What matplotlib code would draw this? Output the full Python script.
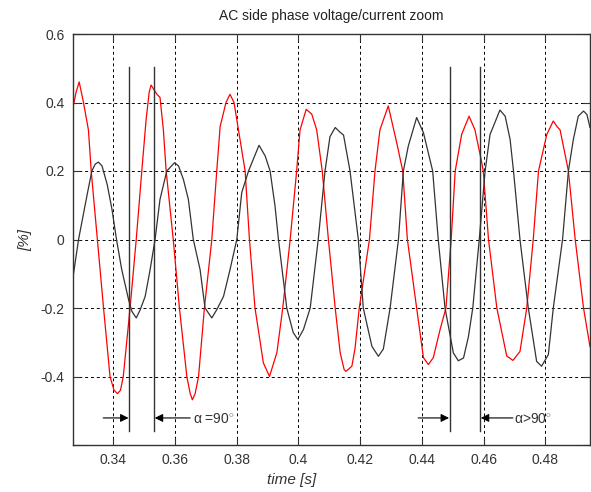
import matplotlib.pyplot as plt
import numpy as np

plt.rcParams['font.family'] = ['Liberation Sans', 'DejaVu Sans']
plt.rcParams['mathtext.fontset'] = 'custom'
plt.rcParams['mathtext.rm'] = 'Liberation Sans'
plt.rcParams['mathtext.it'] = 'Liberation Sans:italic'

# red trace (time [s], value)
red_t = [0.3269, 0.3279, 0.3289, 0.3303, 0.3319, 0.3328, 0.3348, 0.3368, 0.3389, 0.3402,
         0.3413, 0.3423, 0.3432, 0.3454, 0.3474, 0.3492, 0.3506, 0.3516, 0.3522, 0.3541,
         0.3551, 0.3562, 0.3571, 0.3594, 0.3614, 0.3638, 0.3649, 0.3656, 0.3665, 0.3676,
         0.3695, 0.3719, 0.3735, 0.3746, 0.3765, 0.3778, 0.3791, 0.3800, 0.3827, 0.3841,
         0.3859, 0.3886, 0.3906, 0.3930, 0.3949, 0.3973, 0.3994, 0.4005, 0.4025, 0.4043,
         0.4059, 0.4077, 0.4097, 0.4119, 0.4135, 0.4148, 0.4154, 0.4173, 0.4183, 0.4197,
         0.4230, 0.4248, 0.4264, 0.4291, 0.4319, 0.4338, 0.4353, 0.4383, 0.4405, 0.4421,
         0.4437, 0.4459, 0.4478, 0.4495, 0.4508, 0.4529, 0.4553, 0.4572, 0.4592, 0.4599,
         0.4616, 0.4643, 0.4675, 0.4695, 0.4718, 0.4740, 0.4761, 0.4778, 0.4805, 0.4826,
         0.4837, 0.4848, 0.4875, 0.4897, 0.4924, 0.4945]
red_v = [0.386, 0.43, 0.46, 0.40, 0.32, 0.20, 0.00, -0.20, -0.40, -0.44,
         -0.45, -0.44, -0.40, -0.20, 0.00, 0.20, 0.35, 0.43, 0.451, 0.424,
         0.415, 0.32, 0.20, 0.00, -0.20, -0.40, -0.45, -0.468, -0.45, -0.40,
         -0.20, 0.00, 0.20, 0.33, 0.40, 0.424, 0.40, 0.35, 0.20, 0.00,
         -0.20, -0.36, -0.40, -0.33, -0.20, 0.00, 0.20, 0.32, 0.38, 0.366,
         0.32, 0.20, 0.00, -0.20, -0.33, -0.38, -0.385, -0.37, -0.32, -0.20,
         0.00, 0.20, 0.32, 0.39, 0.28, 0.20, 0.00, -0.20, -0.345, -0.365,
         -0.345, -0.263, -0.20, 0.00, 0.20, 0.307, 0.36, 0.32, 0.234, 0.20,
         0.00, -0.20, -0.34, -0.353, -0.327, -0.20, 0.00, 0.20, 0.307, 0.346,
         0.331, 0.32, 0.20, 0.00, -0.20, -0.313]

# black trace
blk_t = [0.3269, 0.3287, 0.3314, 0.3330, 0.3341, 0.3351, 0.3363, 0.3380, 0.3395, 0.3410,
         0.3427, 0.3449, 0.3460, 0.3474, 0.3487, 0.3503, 0.3519, 0.3535, 0.3551, 0.3573,
         0.3598, 0.3611, 0.3627, 0.3643, 0.3659, 0.3681, 0.3697, 0.3719, 0.3735, 0.3757,
         0.3778, 0.3800, 0.3816, 0.3838, 0.3872, 0.3892, 0.3908, 0.3924, 0.3935, 0.3962,
         0.3983, 0.3998, 0.4016, 0.4038, 0.4064, 0.4086, 0.4102, 0.4119, 0.4135, 0.4146,
         0.4167, 0.4194, 0.4210, 0.4238, 0.4259, 0.4275, 0.4297, 0.4324, 0.4340, 0.4356,
         0.4383, 0.4405, 0.4435, 0.4453, 0.4475, 0.4502, 0.4518, 0.4535, 0.4551, 0.4565,
         0.4586, 0.4605, 0.4621, 0.4632, 0.4653, 0.4670, 0.4686, 0.4697, 0.4718, 0.4745,
         0.4772, 0.4788, 0.4810, 0.4826, 0.4856, 0.4875, 0.4891, 0.4907, 0.4924, 0.4935,
         0.4945]
blk_v = [-0.11, 0.00, 0.127, 0.20, 0.22, 0.226, 0.215, 0.16, 0.09, 0.00,
         -0.088, -0.175, -0.21, -0.229, -0.205, -0.166, -0.088, 0.00, 0.117, 0.20,
         0.224, 0.215, 0.175, 0.117, 0.00, -0.088, -0.20, -0.229, -0.205, -0.166,
         -0.088, 0.00, 0.137, 0.20, 0.275, 0.244, 0.20, 0.097, 0.00, -0.20,
         -0.272, -0.292, -0.263, -0.20, 0.00, 0.20, 0.30, 0.327, 0.313, 0.305,
         0.20, 0.00, -0.20, -0.312, -0.341, -0.32, -0.20, 0.00, 0.20, 0.273,
         0.356, 0.312, 0.20, 0.00, -0.20, -0.331, -0.354, -0.346, -0.283, -0.20,
         0.00, 0.20, 0.307, 0.331, 0.378, 0.36, 0.292, 0.20, 0.00, -0.20,
         -0.356, -0.37, -0.336, -0.20, 0.00, 0.20, 0.292, 0.36, 0.375, 0.365,
         0.327]

# marker lines and arrows
marker_t = [0.3451, 0.3532, 0.4490, 0.4589]
arrows = [(0.3367, 0.3449), (0.3649, 0.3534), (0.4388, 0.4488), (0.4695, 0.4591)]
labels = [(0.3658, r'α =90$^{\circ}$'), (0.4698, r'α>90$^{\circ}$')]

fig = plt.figure(figsize=(5.91, 4.92), dpi=100)
ax = fig.add_axes([73 / 591, 47 / 492, 517 / 591, 411 / 492])

ax.plot(red_t, red_v, color='#ff0000', lw=0.9)
ax.plot(blk_t, blk_v, color='#333333', lw=0.9)

for t in marker_t:
    ax.plot([t, t], [-0.56, 0.505], color='#333333', lw=1.0)

for x0, x1 in arrows:
    ax.annotate('', xy=(x1, -0.521), xytext=(x0, -0.521),
                arrowprops=dict(arrowstyle='-|>', color='black', lw=0.8,
                                mutation_scale=12, shrinkA=0, shrinkB=0))
for x0, s in labels:
    ax.text(x0, -0.525, s, fontsize=10, ha='left', va='center', color='#333333')

ax.set_xlim(0.3269, 0.4945)
ax.set_ylim(-0.6, 0.6)
ax.set_xticks([0.34, 0.36, 0.38, 0.40, 0.42, 0.44, 0.46, 0.48])
ax.set_xticklabels(['0.34', '0.36', '0.38', '0.4', '0.42', '0.44', '0.46', '0.48'])
ax.set_yticks([-0.6, -0.4, -0.2, 0, 0.2, 0.4, 0.6])
ax.set_yticklabels(['', '-0.4', '-0.2', '0', '0.2', '0.4', '0.6'])
ax.tick_params(direction='in', top=True, right=True, length=5, width=0.8,
               labelsize=10, colors='#333333', pad=6)
ax.grid(True, color='black', linestyle=(0, (3, 3)), lw=0.7)
for sp in ax.spines.values():
    sp.set_color('#333333')
    sp.set_linewidth(1.0)

ax.set_title('AC side phase voltage/current zoom', fontsize=10, color='#222222', pad=10)
fig.text(292 / 591, 1 - 480 / 492, 'time [s]', fontsize=11, style='italic',
         ha='center', va='center', color='#333333')
fig.text(25 / 591, 1 - 240 / 492, '[%]', fontsize=11, style='italic', rotation=90,
         ha='center', va='center', color='#333333')

fig.savefig('out.png', dpi=100)
